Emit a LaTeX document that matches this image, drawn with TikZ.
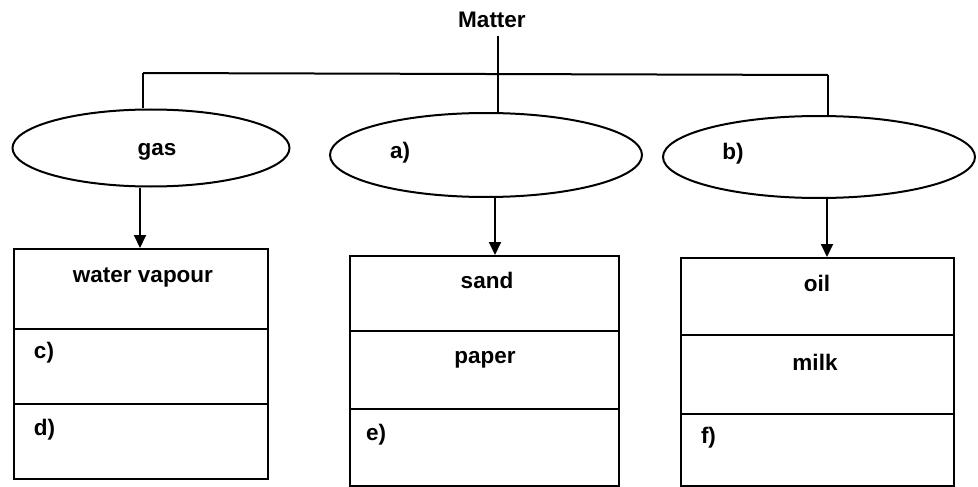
\documentclass[tikz,border=0pt]{standalone}
\usepackage{fontspec}
\setmainfont{Liberation Sans}
\usetikzlibrary{shapes.geometric,arrows.meta}
\begin{document}
\begin{tikzpicture}[x=1pt,y=-1pt,
  line width=2pt,
  ell/.style={draw,ellipse,inner sep=0pt},
  row/.style={draw,rectangle,inner sep=0pt,anchor=north west},
  lbl/.style={font=\bfseries\fontsize{22.5}{25}\selectfont,inner sep=0pt},
  arr/.style={-{Triangle[width=12pt,length=13pt]}}]
\useasboundingbox (0,0) rectangle (978,487);

% title
\node[lbl] (matter) at (492,20) {Matter};

% ellipses
\node[ell,minimum width=277pt,minimum height=77pt] (ell1) at (151,148) {};
\node[ell,minimum width=312pt,minimum height=84pt] (ell2) at (486,155) {};
\node[ell,minimum width=312pt,minimum height=82pt] (ell3) at (819,157) {};
\node[lbl] (tgas) at (157,152) {gas};
\node[lbl] (ta) at (400,153) {a)};
\node[lbl] (tb) at (733,154) {b)};

% left box
\node[row,minimum width=254pt,minimum height=80pt] (l1) at (13,248) {};
\node[row,minimum width=254pt,minimum height=75pt] (l2) at (13,328) {};
\node[row,minimum width=254pt,minimum height=75pt] (l3) at (13,403) {};
\node[lbl] (twv) at (143,277) {water vapour};
\node[lbl,anchor=west] (tc) at (33,353) {c)};
\node[lbl,anchor=west] (td) at (33,430) {d)};

% middle box
\node[row,minimum width=269pt,minimum height=75pt] (m1) at (349,255) {};
\node[row,minimum width=269pt,minimum height=78pt] (m2) at (349,330) {};
\node[row,minimum width=269pt,minimum height=77pt] (m3) at (349,408) {};
\node[lbl] (tsand) at (487,280) {sand};
\node[lbl] (tpaper) at (485,360) {paper};
\node[lbl,anchor=west] (te) at (365,435) {e)};

% right box
\node[row,minimum width=273pt,minimum height=77pt] (r1) at (680,257) {};
\node[row,minimum width=273pt,minimum height=79pt] (r2) at (680,334) {};
\node[row,minimum width=273pt,minimum height=72pt] (r3) at (680,413) {};
\node[lbl] (toil) at (817,283) {oil};
\node[lbl] (tmilk) at (815,362) {milk};
\node[lbl,anchor=west] (tf) at (700,438) {f)};

% tree connectors
\coordinate (top) at (498,36);
\coordinate (hl) at (143,73);
\coordinate (hr) at (828,75);
\draw (top) -- (top |- ell2.north);
\draw (hl) -- (hr);
\draw (hl) -- (hl |- ell1.north);
\draw (hr) -- (hr |- ell3.north);

% arrows
\coordinate (a1) at (140,0);
\coordinate (a2) at (495,0);
\coordinate (a3) at (827,0);
\draw[arr] (a1 |- ell1.south) -- (a1 |- l1.north);
\draw[arr] (a2 |- ell2.south) -- (a2 |- m1.north);
\draw[arr] (a3 |- ell3.south) -- (a3 |- r1.north);
\end{tikzpicture}
\end{document}
